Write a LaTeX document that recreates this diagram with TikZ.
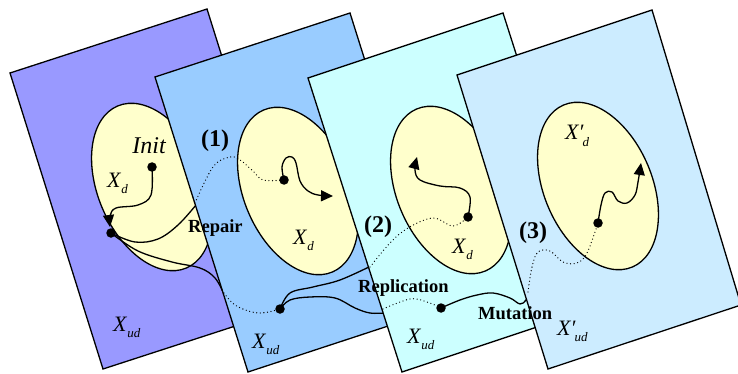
\documentclass[tikz,border=0pt]{standalone}
\usepackage{fontspec}
\setmainfont{Liberation Serif}
\usetikzlibrary{arrows.meta}
\definecolor{pone}{RGB}{153,153,255}
\definecolor{ptwo}{RGB}{153,204,255}
\definecolor{pthree}{RGB}{204,255,255}
\definecolor{pfour}{RGB}{204,236,255}
\definecolor{ellc}{RGB}{255,255,204}
\newcommand{\Xsub}[1]{\textit{X}\raisebox{-6pt}{\fontsize{13}{13}\selectfont\textit{#1}}}
\newcommand{\Xpsub}[1]{\textit{X\char"2032}\kern-1pt\raisebox{-6pt}{\fontsize{13}{13}\selectfont\textit{#1}}}
\begin{document}
\begin{tikzpicture}[x=1pt,y=-1pt,
  plane/.style={draw=black, line width=1.3pt, line join=miter},
  ell/.style={draw=black, line width=1.3pt, fill=ellc},
  dotn/.style={circle, fill=black, inner sep=0pt, minimum size=9.5pt},
  sol/.style={line width=1.3pt},
  dotl/.style={line width=1.3pt, dash pattern=on 0pt off 3.6pt, line cap=round},
  arr/.style={sol, -{Triangle[length=12pt,width=11pt]}},
  bl/.style={font=\fontsize{18.5}{20}\selectfont\bfseries, inner sep=0pt},
  num/.style={font=\fontsize{24}{26}\selectfont\bfseries, inner sep=0pt},
  xl/.style={font=\fontsize{22}{24}\selectfont, inner sep=0pt, anchor=base west},
]
\useasboundingbox (0,0) rectangle (738,374);
\clip (0,0) rectangle (738,374);
% ---------------- plane 1
\draw[plane, fill=pone] (10,73) -- (207,9) -- (300,305) -- (103,369) -- cycle;
\draw[ell] (152,187) ellipse [x radius=54, y radius=88, rotate=23];
\node[font=\fontsize{24}{26}\selectfont\itshape, inner sep=0pt] (init) at (149,146) {Init};
\node[xl] (xd1) at (107,187) {\Xsub{d}};
\node[xl] (xud1) at (113,331) {\Xsub{ud}};
\node[dotn] (i0) at (152,167) {};
\node[dotn] (d1) at (111,233) {};
\draw[arr] plot[smooth, tension=0.6] coordinates {(i0.center) (151,195) (138,205) (116,208) (110,216) (110,227)};
\coordinate (e1a) at (196,205);
\coordinate (e1b) at (224,294);
\draw[sol] plot[smooth, tension=0.6] coordinates {(d1.center) (135,242) (158,239) (178,225) (e1a)};
\draw[sol] plot[smooth, tension=0.6] coordinates {(d1.center) (138,251) (172,262) (200,268) (215,278) (e1b)};
% ---------------- plane 2
\draw[plane, fill=ptwo] (155,77) -- (350,13) -- (443,308) -- (248,372) -- cycle;
\draw[ell] (298,191) ellipse [x radius=54, y radius=88, rotate=23];
\node[dotn] (d2a) at (284,180) {};
\node[dotn] (d2b) at (280,309) {};
\draw[dotl] plot[smooth, tension=0.6] coordinates {(195,203) (213,167) (230,157) (240,160) (253,171) (263,180) (d2a.center)};
\draw[dotl] plot[smooth, tension=0.6] coordinates {(222,290) (235,305) (258,313) (d2b.center)};
\draw[arr] plot[smooth, tension=0.6] coordinates {(d2a.center) (282,167) (286,158) (292,157) (296,163) (300,181) (308,191) (318,195) (333,196)};
\coordinate (e2a) at (371,266);
\coordinate (e2b) at (386,313);
\draw[sol] plot[smooth, tension=0.6] coordinates {(d2b.center) (290,293) (313,287) (340,280) (e2a)};
\draw[sol] plot[smooth, tension=0.6] coordinates {(d2b.center) (290,300) (310,297) (335,298) (355,308) (370,313) (e2b)};
\node[num] (n1) at (215,141) {(1)};
\node[bl, anchor=base west] (rep) at (188,232) {Repair};
\node[xl] (xd2) at (293,244) {\Xsub{d}};
\node[xl] (xud2) at (252,348) {\Xsub{ud}};
% ---------------- plane 3
\draw[plane, fill=pthree] (308,78) -- (503,13) -- (597,307) -- (402,372) -- cycle;
\draw[ell] (451,190) ellipse [x radius=54, y radius=88, rotate=23];
\node[dotn] (d3a) at (468,217) {};
\node[dotn] (d3b) at (441,308) {};
\draw[dotl] plot[smooth, tension=0.6] coordinates {(370,267) (390,243) (408,228) (433,218) (453,226) (d3a.center)};
\draw[dotl] plot[smooth, tension=0.6] coordinates {(383,309) (410,299) (427,302) (d3b.center)};
\draw[arr] plot[smooth, tension=0.6] coordinates {(d3a.center) (470,197) (460,188) (440,186) (420,180) (415,170) (417,157)};
\coordinate (e3) at (529,292);
\draw[sol] plot[smooth, tension=0.6] coordinates {(d3b.center) (460,300) (477,295) (493,293) (510,298) (520,304) (526,300) (e3)};
\node[num] (n2) at (378,227) {(2)};
\node[bl, anchor=base west] (repl) at (358,292) {Replication};
\node[xl] (xd3) at (452,253) {\Xsub{d}};
\node[xl] (xud3) at (407,343) {\Xsub{ud}};
% ---------------- plane 4
\draw[plane, fill=pfour] (457,75) -- (652,10) -- (741,305) -- (548,369) -- cycle;
\draw[ell] (598,186) ellipse [x radius=54, y radius=88, rotate=23];
\node[dotn] (d4) at (598,223) {};
\draw[dotl] plot[smooth, tension=0.6] coordinates {(528,292) (532,267) (538,252) (550,251) (563,262) (577,263) (587,253) (d4.center)};
\draw[arr] plot[smooth, tension=0.6] coordinates {(d4.center) (601,205) (605,193) (612,192) (618,201) (627,203) (635,195) (638,182) (641,163)};
\node[num] (n3) at (533,233) {(3)};
\node[bl, anchor=base west] (mut) at (478,319) {Mutation};
\node[xl] (xd4) at (565,140) {\Xpsub{d}};
\node[xl] (xud4) at (557,335) {\Xpsub{ud}};
\end{tikzpicture}
\end{document}
